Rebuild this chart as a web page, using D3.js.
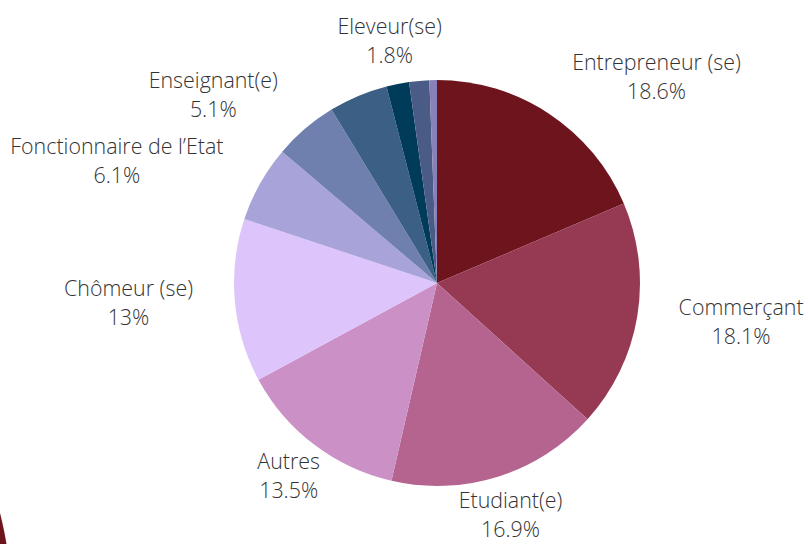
<!DOCTYPE html>
<html>
<head>
<meta charset="utf-8">
<script src="https://cdn.jsdelivr.net/npm/d3@7"></script>
<style>
  body { margin: 0; background: #fff; }
  svg { display: block; }
</style>
</head>
<body>
<svg></svg>
<script>
// slices, clockwise from 12 o'clock
var categories = ["Entrepreneur (se)", "Commerçant", "Etudiant(e)", "Autres", "Chômeur (se)",
                  "Fonctionnaire de l’Etat", "Enseignant(e)", "Autre 1", "Eleveur(se)", "Autre 2", "Autre 3"];
var values = [18.6, 18.1, 16.9, 13.5, 13, 6.1, 5.1, 4.7, 1.8, 1.6, 0.6];
var showLabel = [true, true, true, true, true, true, true, false, true, false, false];
var colors = ["#6e141c", "#963a54", "#b5648f", "#cb91c7", "#ddc5fc",
              "#a8a3d8", "#6f80ae", "#3c5f86", "#003b59", "#4a5c86", "#8880b8"];

var screen = {width: 808, height: 544};
var center = {x: 437, y: 283};
var radius = 203;
var labelRadius = 245;

var svg = d3.select("svg")
    .attr("width", screen.width)
    .attr("height", screen.height);

// stray arc of a neighbouring chart, bottom-left corner
svg.append("circle")
    .attr("cx", -339)
    .attr("cy", 600)
    .attr("r", 350)
    .attr("fill", colors[0]);

var data = categories.map(function(c, i){
    return {name: c, value: values[i], color: colors[i], label: showLabel[i]};
});

var pie = d3.pie()
    .sort(null)
    .value(function(d){ return d.value; });

var arc = d3.arc()
    .innerRadius(0)
    .outerRadius(radius);

var graph = svg.append("g")
    .attr("id", "graph")
    .attr("transform", "translate(" + center.x + "," + center.y + ")");

var arcs = pie(data);

graph.selectAll("path")
    .data(arcs)
    .enter()
    .append("path")
    .attr("d", arc)
    .attr("fill", function(d){ return d.data.color; });

var labels = graph.selectAll("g.label")
    .data(arcs.filter(function(d){ return d.data.label; }))
    .enter()
    .append("g")
    .attr("class", "label")
    .style("font-family", "'Open Sans', sans-serif")
    .style("font-weight", 300)
    .style("font-size", "21.4px")
    .attr("fill", "#333");

labels.each(function(d){
    var g = d3.select(this);
    var mid = (d.startAngle + d.endAngle) / 2;
    var s = Math.sin(mid);
    var px = labelRadius * s;
    var py = -labelRadius * Math.cos(mid) - 3;

    var t1 = g.append("text").attr("text-anchor", "middle").attr("dominant-baseline", "central")
        .attr("y", py - 14).text(d.data.name);
    var t2 = g.append("text").attr("text-anchor", "middle").attr("dominant-baseline", "central")
        .attr("y", py + 14.5).text(d3.format("")(d.data.value) + "%");

    var w = Math.max(t1.node().getComputedTextLength(), t2.node().getComputedTextLength());
    var cx = px;
    if (s > 0.5) cx = px + w / 2;
    else if (s < -0.62) cx = px - w / 2;
    t1.attr("x", cx);
    t2.attr("x", cx);
});
</script>
</body>
</html>
